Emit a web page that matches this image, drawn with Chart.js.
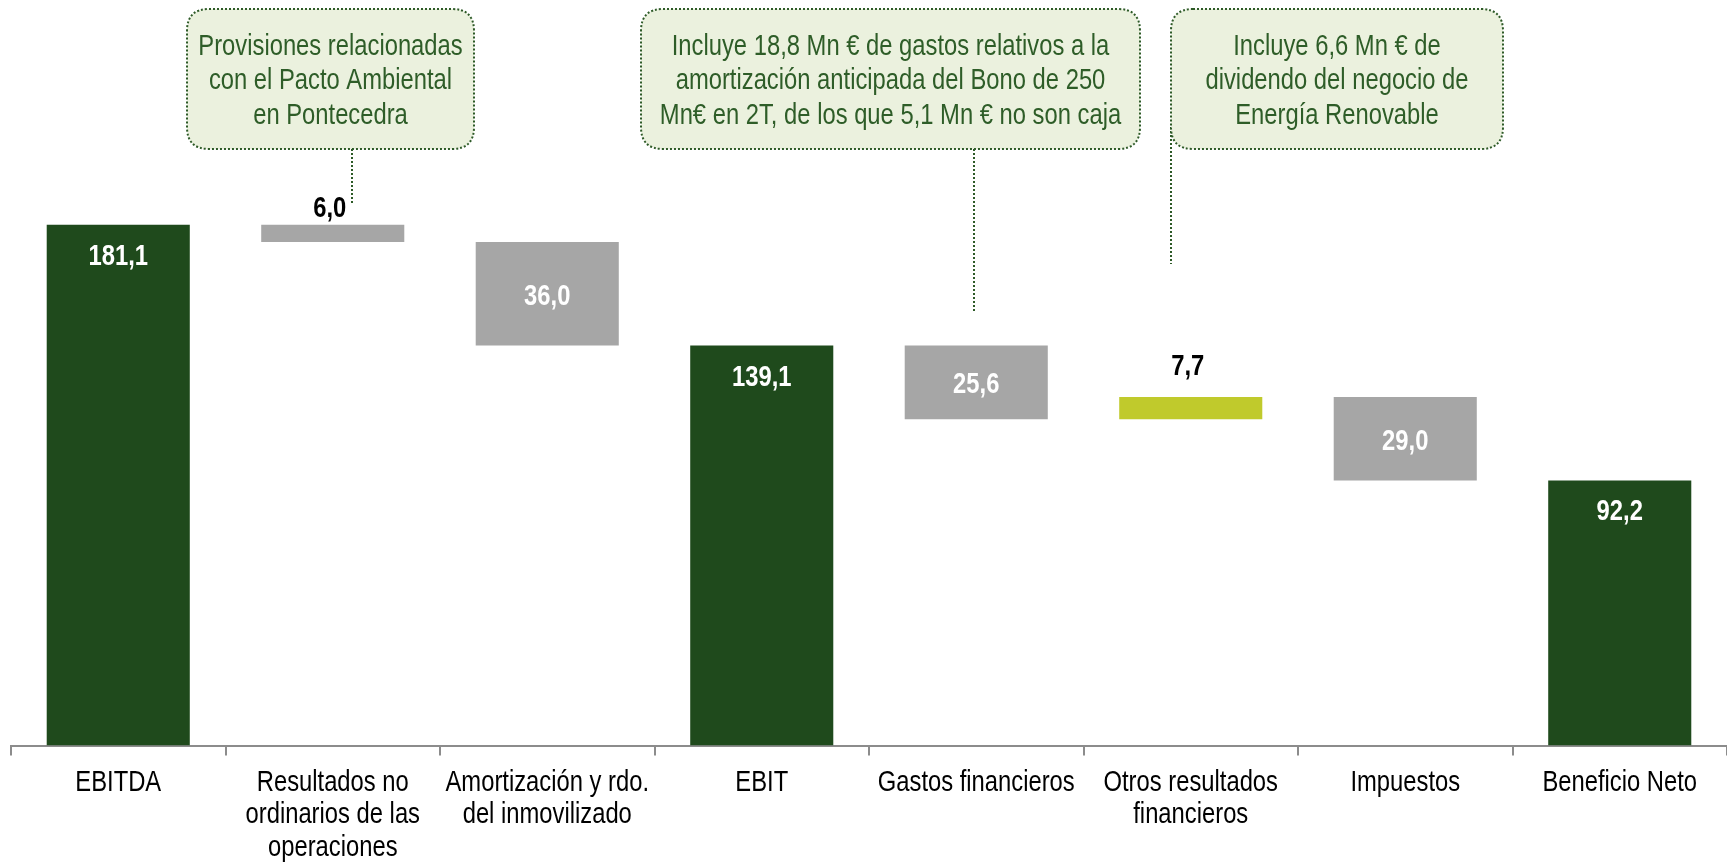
<!DOCTYPE html>
<html>
<head>
<meta charset="utf-8">
<script src="https://cdn.jsdelivr.net/npm/chart.js@4.4.1/dist/chart.umd.min.js"></script>
<style>
html, body { margin: 0; padding: 0; background: #fff; }
#wrap { width: 1727px; height: 863px; }
</style>
</head>
<body>
<div id="wrap"><canvas id="graph" width="1727" height="863"></canvas></div>
<script>
const categorias = [
    'EBITDA',
    ['Resultados no', 'ordinarios de las', 'operaciones'],
    ['Amortización y rdo.', 'del inmovilizado'],
    'EBIT',
    'Gastos financieros',
    ['Otros resultados', 'financieros'],
    'Impuestos',
    'Beneficio Neto'
];
const valores = [181.1, -6.0, -36.0, 139.1, -25.6, 7.7, -29.0, 92.2];
const esTotal = [true, false, false, true, false, false, false, true];

const notaTextos = [
    ['Provisiones relacionadas', 'con el Pacto Ambiental', 'en Pontecedra'],
    ['Incluye 18,8 Mn € de gastos relativos a la', 'amortización anticipada del Bono de 250', 'Mn€ en 2T, de los que 5,1 Mn € no son caja'],
    ['Incluye 6,6 Mn € de', 'dividendo del negocio de', 'Energía Renovable']
];

// no hay Arial Narrow: Liberation Sans comprimida en horizontal
const FUENTE = "'Liberation Sans', Arial, sans-serif";
const ESTRECHO = 0.82;
const VERDE = '#1f4a1c';
const GRIS = '#a6a6a6';
const LIMA = '#c0ca2c';

// tramos de la cascada
let acc = 0;
const tramos = valores.map((v, i) => {
    if (esTotal[i]) {
        acc = v;
        return [0, v];
    }
    const ini = acc;
    acc = acc + v;
    return [ini, acc];
});
const colores = valores.map((v, i) => esTotal[i] ? VERDE : (v < 0 ? GRIS : LIMA));

function fmt(v) {
    return Math.abs(v).toFixed(1).replace('.', ',');
}

function textoEstrecho(ctx, t, x, y) {
    ctx.save();
    ctx.translate(x, y);
    ctx.scale(ESTRECHO, 1);
    ctx.fillText(t, 0, 0);
    ctx.restore();
}

const etiquetas = {
    id: 'etiquetas',
    afterDatasetsDraw(chart, args, opts) {
        const ctx = chart.ctx;
        const meta = chart.getDatasetMeta(0);
        ctx.save();
        ctx.font = 'bold 29px ' + FUENTE;
        ctx.textAlign = 'center';
        ctx.textBaseline = 'middle';
        meta.data.forEach((bar, i) => {
            const top = Math.min(bar.y, bar.base);
            const bottom = Math.max(bar.y, bar.base);
            const texto = fmt(valores[i]);
            if (esTotal[i]) {
                ctx.fillStyle = '#fff';
                textoEstrecho(ctx, texto, bar.x, top + 32);
            } else if (bottom - top > 40) {
                ctx.fillStyle = '#fff';
                textoEstrecho(ctx, texto, bar.x, (top + bottom) / 2 + 3);
            } else {
                const lift = opts.lift[i] || 20;
                ctx.fillStyle = '#000';
                textoEstrecho(ctx, texto, bar.x - 3, top - lift);
            }
        });

        // etiquetas del eje x
        const xs = chart.scales.x;
        ctx.font = '29px ' + FUENTE;
        ctx.fillStyle = '#000';
        categorias.forEach((c, i) => {
            const lineas = Array.isArray(c) ? c : [c];
            const x = xs.getPixelForValue(i);
            lineas.forEach((t, j) => {
                textoEstrecho(ctx, t, x, xs.top + 37 + j * 32.5);
            });
        });
        ctx.restore();
    }
};

function cajaRedonda(ctx, x, y, w, h, r) {
    ctx.beginPath();
    ctx.moveTo(x + r, y);
    ctx.lineTo(x + w - r, y);
    ctx.quadraticCurveTo(x + w, y, x + w, y + r);
    ctx.lineTo(x + w, y + h - r);
    ctx.quadraticCurveTo(x + w, y + h, x + w - r, y + h);
    ctx.lineTo(x + r, y + h);
    ctx.quadraticCurveTo(x, y + h, x, y + h - r);
    ctx.lineTo(x, y + r);
    ctx.quadraticCurveTo(x, y, x + r, y);
    ctx.closePath();
}

const notas = {
    id: 'notas',
    afterDraw(chart, args, opts) {
        const ctx = chart.ctx;
        ctx.save();
        opts.cajas.forEach((c, k) => {
            // conector
            ctx.strokeStyle = '#2d5a27';
            ctx.lineWidth = 2;
            ctx.setLineDash([2, 2]);
            ctx.beginPath();
            ctx.moveTo(c.lx, c.ly0);
            ctx.lineTo(c.lx, c.ly1);
            ctx.stroke();
            // caja
            cajaRedonda(ctx, c.x, c.y, c.w, c.h, 22);
            ctx.fillStyle = '#ebf1de';
            ctx.fill();
            ctx.stroke();
            ctx.setLineDash([]);
            ctx.fillStyle = '#2e5d28';
            ctx.font = '29px ' + FUENTE;
            ctx.textAlign = 'center';
            ctx.textBaseline = 'middle';
            const lineas = notaTextos[k];
            lineas.forEach((t, j) => {
                textoEstrecho(ctx, t, c.x + c.w / 2, c.y + c.h / 2 + 2 + (j - (lineas.length - 1) / 2) * 34.5);
            });
        });
        ctx.restore();
    }
};

const ctx = document.getElementById('graph').getContext('2d');
const chart = new Chart(ctx, {
    type: 'bar',
    data: {
        labels: categorias,
        datasets: [{
            data: tramos,
            backgroundColor: colores,
            borderWidth: 0,
            barPercentage: 0.667,
            categoryPercentage: 1
        }]
    },
    options: {
        responsive: false,
        devicePixelRatio: 1,
        animation: false,
        layout: { padding: { left: 11, right: 0, top: 26.6, bottom: 0 } },
        plugins: {
            legend: { display: false },
            tooltip: { enabled: false },
            etiquetas: { lift: { 1: 16, 5: 30 } },
            notas: {
                cajas: [
                    { x: 187, y: 9, w: 287, h: 140, lx: 352, ly0: 149, ly1: 204 },
                    { x: 641, y: 9, w: 499, h: 140, lx: 974, ly0: 149, ly1: 312 },
                    { x: 1171, y: 9, w: 332, h: 140, lx: 1171, ly0: 127, ly1: 264 }
                ]
            }
        },
        scales: {
            x: {
                offset: true,
                afterFit(scale) { scale.height = 117.4; },
                grid: {
                    display: true,
                    offset: true,
                    drawOnChartArea: false,
                    drawTicks: true,
                    tickLength: 10,
                    color: '#8c8c8c',
                    lineWidth: 2
                },
                border: { display: true, color: '#8c8c8c', width: 2 },
                ticks: {
                    display: false,
                    autoSkip: false,
                    maxRotation: 0
                }
            },
            y: {
                display: false,
                min: 0,
                max: 250
            }
        }
    },
    plugins: [etiquetas, notas]
});
</script>
</body>
</html>
